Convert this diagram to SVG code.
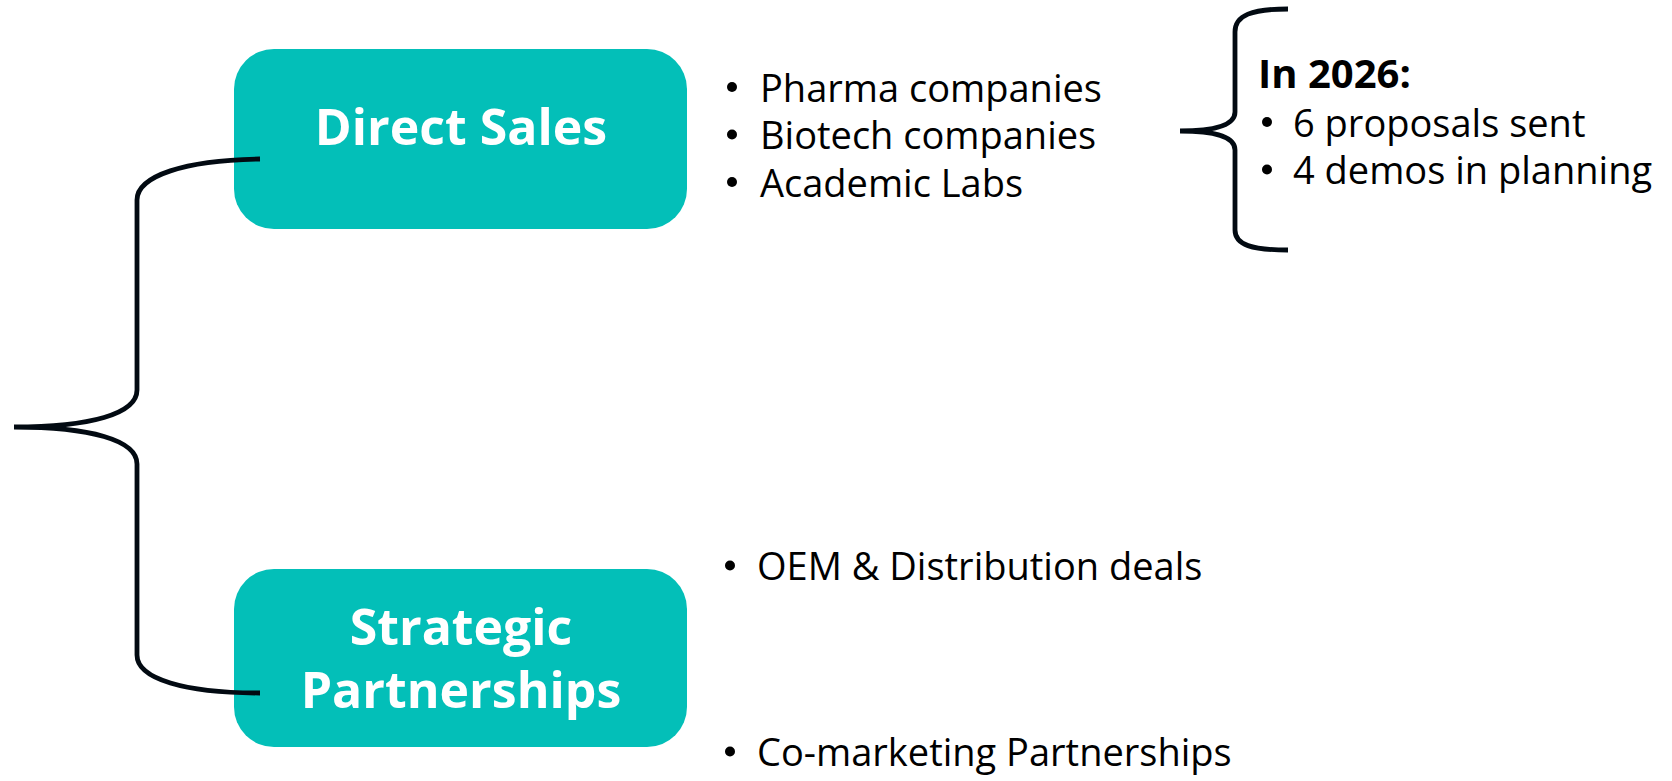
<svg xmlns="http://www.w3.org/2000/svg" width="1672" height="781" viewBox="0 0 1672 781">
  <style>
    .box { fill: #03BFB8; }
    .lbl { font-family: "Open Sans", "Noto Sans", "Liberation Sans", sans-serif; font-weight: 700; font-size: 50px; fill: #FFFFFF; text-anchor: middle; }
    .txt { font-family: "Open Sans", "Noto Sans", "Liberation Sans", sans-serif; font-size: 38px; fill: #000000; }
    .bld { font-weight: 700; font-size: 40px; }
    .dot { fill: #000000; }
    .brace { fill: none; stroke: #020A12; stroke-width: 4.8; }
  </style>
  <rect width="1672" height="781" fill="#FFFFFF"/>

  <g id="node-direct-sales">
    <rect class="box" x="234" y="49" width="453" height="180" rx="40" ry="40"/>
    <text class="lbl" x="461" y="145">Direct Sales</text>
  </g>

  <g id="node-strategic-partnerships">
    <rect class="box" x="234" y="569" width="453" height="178" rx="40" ry="40"/>
    <text class="lbl" x="461" y="645">Strategic</text>
    <text class="lbl" x="461" y="708">Partnerships</text>
  </g>

  <g id="list-direct-sales">
    <circle class="dot" cx="732" cy="87" r="5"/>
    <text class="txt" x="760" y="101.5">Pharma companies</text>
    <circle class="dot" cx="732" cy="134.5" r="5"/>
    <text class="txt" x="760" y="149">Biotech companies</text>
    <circle class="dot" cx="732" cy="182" r="5"/>
    <text class="txt" x="760" y="196.5">Academic Labs</text>
  </g>

  <g id="list-2026">
    <text class="txt bld" x="1258" y="88">In 2026:</text>
    <circle class="dot" cx="1267" cy="122" r="5"/>
    <text class="txt" x="1293" y="136.5">6 proposals sent</text>
    <circle class="dot" cx="1267" cy="169.5" r="5"/>
    <text class="txt" x="1293" y="184">4 demos in planning</text>
  </g>

  <g id="list-partnerships">
    <circle class="dot" cx="730" cy="565.5" r="5"/>
    <text class="txt" x="757" y="580">OEM &amp; Distribution deals</text>
    <circle class="dot" cx="730" cy="751.5" r="5"/>
    <text class="txt" x="757" y="766">Co-marketing Partnerships</text>
  </g>

  <g id="connectors">
    <path class="brace" d="M260,159 C185,160 137,176 137,200 V390 C137,414 90,427 14,427 C90,427 137,440 137,464 V655 C137,679 185,693 260,693"/>
    <path class="brace" d="M1288,9 C1252,9 1235,15 1235,32 V112 C1235,125 1215,131 1180,131 C1215,131 1235,137 1235,150 V230 C1235,245 1252,250 1288,250"/>
  </g>
</svg>
